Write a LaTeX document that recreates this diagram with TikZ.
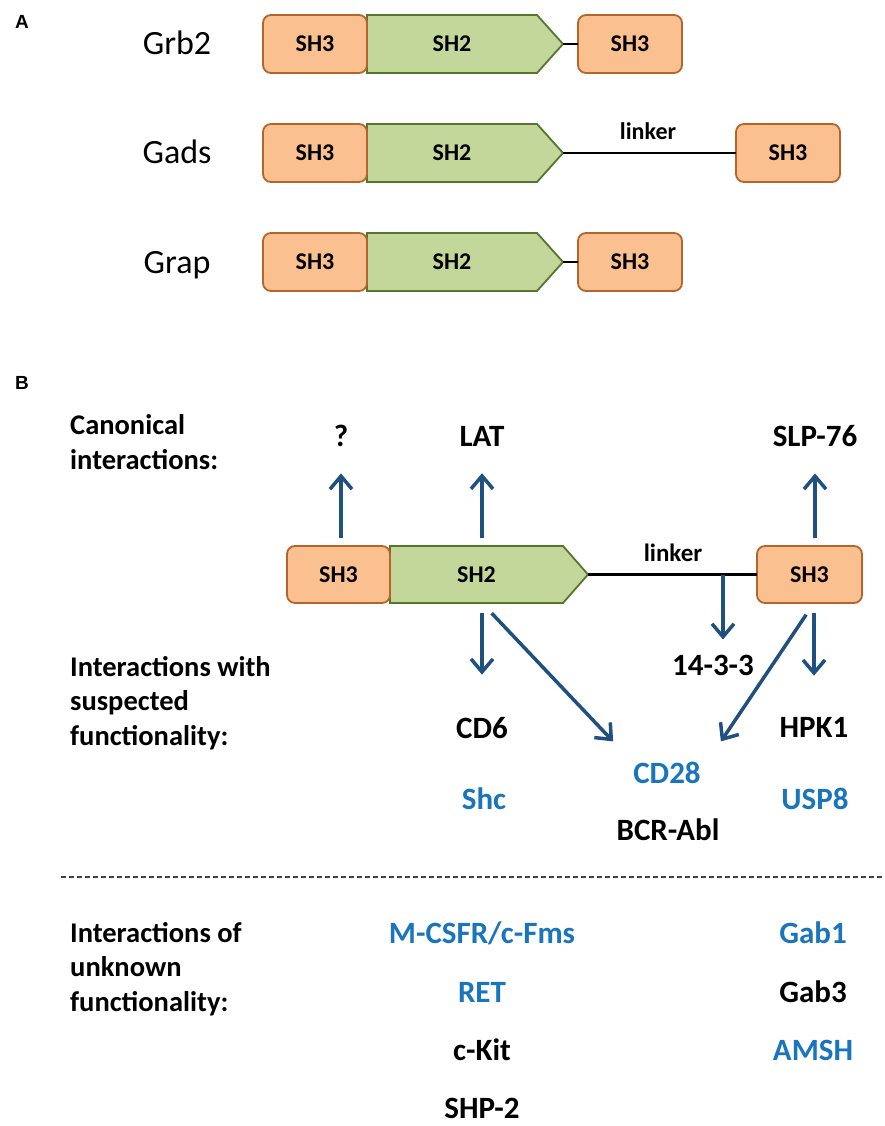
\documentclass[tikz,border=0pt]{standalone}
\usepackage{fontspec}
\setmainfont{Carlito}
\newfontfamily\panelfont{Liberation Sans}
\usetikzlibrary{arrows.meta}
\definecolor{orfill}{HTML}{FAC090}
\definecolor{ordraw}{HTML}{B5652C}
\definecolor{grfill}{HTML}{C4D79B}
\definecolor{grdraw}{HTML}{56752F}
\definecolor{arrblue}{HTML}{1F5080}
\definecolor{txtblue}{HTML}{1A75BC}
\pgfdeclarelayer{bg}
\pgfsetlayers{bg,main}
\begin{document}
\begin{tikzpicture}[x=1pt,y=-1pt,
  shthree/.style={draw=ordraw, fill=orfill, line width=1.8pt, rounded corners=8pt,
    minimum width=104pt, minimum height=58pt, inner sep=0pt, outer sep=0pt,
    font=\bfseries\fontsize{24}{28}\selectfont},
  shtwo/.style={minimum width=170pt, minimum height=58pt, inner sep=0pt, outer sep=0pt,
    font=\bfseries\fontsize{24}{28}\selectfont},
  sh2body/.style={draw=grdraw, fill=grfill, line width=1.8pt, line join=miter},
  link/.style={draw=black, line width=2.2pt},
  lk/.style={inner sep=0pt, anchor=base, font=\bfseries\fontsize{24}{28}\selectfont},
  pname/.style={inner sep=0pt, anchor=base, font=\fontsize{34}{40}\selectfont},
  panel/.style={inner sep=0pt, font=\panelfont\bfseries\fontsize{19}{22}\selectfont},
  lbl/.style={inner sep=0pt, anchor=base, font=\bfseries\fontsize{31}{36}\selectfont},
  bluetext/.style={text=txtblue},
  side/.style={inner sep=0pt, anchor=base west, font=\bfseries\fontsize{28.5}{34}\selectfont},
  arr/.style={draw=arrblue, line width=3.5pt, -{Straight Barb[length=13pt,width=22pt]}},
  sep/.style={draw=black!75, line width=1.3pt, dash pattern=on 5pt off 3pt}
]
\useasboundingbox (0,0) rectangle (884,1126);

% ---------- panel A: domain layouts ----------
\node[panel] (pa) at (22,22) {A};

\node[pname] (grb2) at (177,55) {Grb2};
\node[pname] (gads) at (177,164) {Gads};
\node[pname] (grap) at (177,273) {Grap};

% Grb2
\node[shthree] (a1l) at (315,44) {SH3};
\node[shtwo]   (a1m) at (452,44) {SH2};
\node[shthree] (a1r) at (630,44) {SH3};
\coordinate (a1t) at ([xshift=26pt]a1m.east);
\draw[link] (a1t) -- (a1r);

% Gads
\node[shthree] (a2l) at (315,153) {SH3};
\node[shtwo]   (a2m) at (452,153) {SH2};
\node[shthree] (a2r) at (788,153) {SH3};
\coordinate (a2t) at ([xshift=26pt]a2m.east);
\draw[link] (a2t) -- (a2r);
\node[lk] (a2lk) at (648,140) {linker};

% Grap
\node[shthree] (a3l) at (315,262) {SH3};
\node[shtwo]   (a3m) at (452,262) {SH2};
\node[shthree] (a3r) at (630,262) {SH3};
\coordinate (a3t) at ([xshift=26pt]a3m.east);
\draw[link] (a3t) -- (a3r);

% ---------- panel B: Gads interaction map ----------
\node[panel] (pb) at (22,383) {B};

\node[side] (c1) at (70,434) {Canonical};
\node[side] (c2) at (70,469) {interactions:};

\node[shthree, minimum width=103pt, minimum height=57pt] (bl) at (338.5,574.5) {SH3};
\node[shtwo, minimum width=173pt, minimum height=57pt] (bm) at (476.5,574.5) {SH2};
\node[shthree, minimum width=105pt, minimum height=57pt] (br) at (809.5,574.5) {SH3};
\coordinate (bt) at ([xshift=25pt]bm.east);
\draw[link] (bt) -- (br);
\node[lk, font=\bfseries\fontsize{25}{29}\selectfont] (blk) at (673,561) {linker};
\coordinate (lj) at (723,574.5);

% SH2 bodies (pentagons behind the SH2 labels)
\begin{pgfonlayer}{bg}
  \foreach \m/\d in {a1m/26,a2m/26,a3m/26,bm/25}
    \draw[sh2body] (\m.north west) -- (\m.north east) -- ([xshift=\d pt]\m.east)
      -- (\m.south east) -- (\m.south west) -- cycle;
\end{pgfonlayer}

% canonical partners
\node[lbl] (q)   at (341,446) {?};
\node[lbl] (lat) at (482,446) {LAT};
\node[lbl] (slp) at (815,446) {SLP-76};

\draw[arr, shorten <=8pt, shorten >=27pt] (bl.north -| q.south) -- (q.south);
\draw[arr, shorten <=8pt, shorten >=27pt] (bm.north -| lat.south) -- (lat.south);
\draw[arr, shorten <=8pt, shorten >=27pt] (br.north -| slp.south) -- (slp.south);

% partners with suspected functionality
\node[side] (s1) at (70,676) {Interactions with};
\node[side] (s2) at (70,710.5) {suspected};
\node[side] (s3) at (70,745) {functionality:};

\node[lbl] (f14) at (713,675) {14-3-3};
\node[lbl] (cd6) at (482,738) {CD6};
\node[lbl] (hpk) at (814,737) {HPK1};
\node[lbl, bluetext] (cd28) at (667,783) {CD28};
\node[lbl, bluetext] (shc)  at (484,809) {Shc};
\node[lbl, bluetext] (usp)  at (815,809) {USP8};
\node[lbl] (bcr) at (668,840) {BCR-Abl};

\draw[arr, shorten <=10pt, shorten >=42pt] (bm.south -| cd6.north) -- (cd6.north);
\draw[arr, shorten <=14pt] (bm.south -| cd6.north) -- ([xshift=-20pt,yshift=20pt]cd28.north west);
\draw[arr, shorten <=10pt, shorten >=41pt] (br.south -| hpk.north) -- (hpk.north);
\draw[arr, shorten <=14pt] (br.south -| hpk.north) -- ([xshift=20pt,yshift=20pt]cd28.north east);
\draw[arr, shorten >=15pt] (lj) -- (lj |- f14.north);

% separator
\draw[sep] (61,877) -- (884,877);

% partners of unknown functionality
\node[side] (u1) at (70,942) {Interactions of};
\node[side] (u2) at (70,976.5) {unknown};
\node[side] (u3) at (70,1011) {functionality:};

\node[lbl, bluetext] (mcsf) at (482,943)  {M-CSFR/c-Fms};
\node[lbl, bluetext] (ret)  at (482,1002) {RET};
\node[lbl]           (ckit) at (482,1060) {c-Kit};
\node[lbl]           (shp)  at (482,1118) {SHP-2};
\node[lbl, bluetext] (gab1) at (813,943)  {Gab1};
\node[lbl]           (gab3) at (813,1002) {Gab3};
\node[lbl, bluetext] (amsh) at (813,1060) {AMSH};
\end{tikzpicture}
\end{document}
